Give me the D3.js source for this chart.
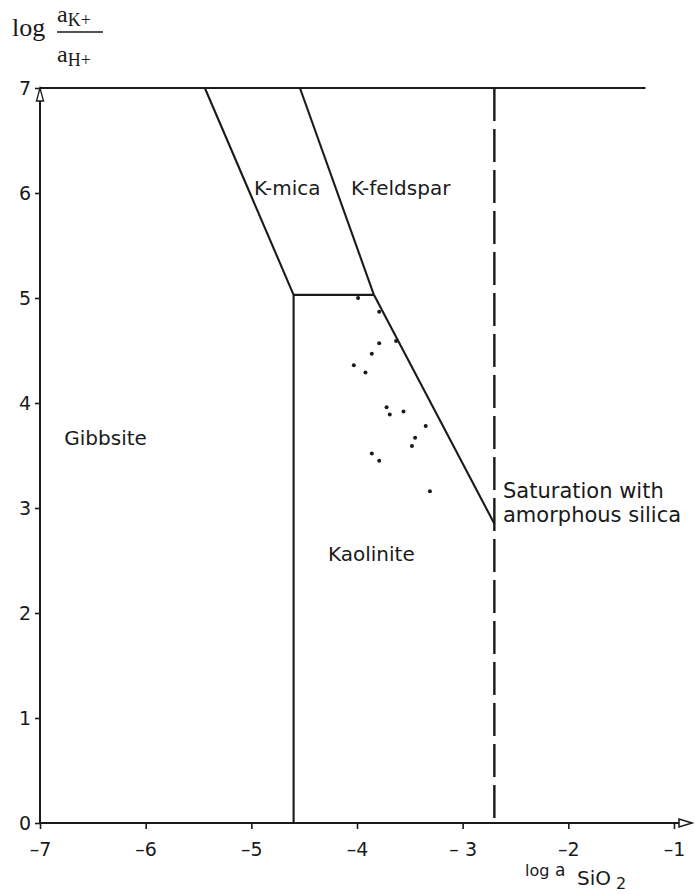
<!DOCTYPE html>
<html><head><meta charset="utf-8">
<script src="https://cdn.jsdelivr.net/npm/d3@7"></script>
<style>body{margin:0;background:#fff}</style>
</head><body>
<svg id="c" width="695" height="894"></svg>
<script>
// ---- data ----
const xTicks = [-7, -6, -5, -4, -3, -2, -1];
const xTickLabels = ["–7", "–6", "–5", "–4", "– 3", "–2", "–1"];
const yTicks = [0, 1, 2, 3, 4, 5, 6, 7];
const yTickLabels = ["0", "1", "2", "3", "4", "5", "6", "7"];

// measured water samples (log aSiO2, log aK+/aH+)
const sampleLogSiO2 = [-3.99, -3.79, -3.63, -3.79, -3.86, -4.03, -3.92, -3.72, -3.69, -3.56, -3.35, -3.45, -3.48, -3.86, -3.79, -3.31];
const sampleLogKH   = [5.00, 4.87, 4.59, 4.57, 4.47, 4.36, 4.29, 3.96, 3.89, 3.92, 3.78, 3.67, 3.59, 3.52, 3.45, 3.16];

// phase boundaries
const gibbsiteX = [-5.44, -4.6, -4.6];
const gibbsiteY = [7, 5.03, 0];
const micaKaoX = [-4.6, -3.84];
const micaKaoY = [5.03, 5.03];
const micaFspX = [-4.54, -3.84];
const micaFspY = [7, 5.03];
const fspKaoX = [-3.84, -2.7];
const fspKaoY = [5.03, 2.85];
const silicaX = [-2.7, -2.7];
const silicaY = [7, 0];
const topX = [-7, -1.27];
const topY = [7, 7];

const regionNames = ["K-mica", "K-feldspar", "Gibbsite", "Kaolinite"];
const regionX = [-4.975, -4.057, -6.77, -4.275];
const regionY = [5.98, 5.98, 3.6, 2.5];

// ---- drawing ----
const svg = d3.select("#c");
const x = d3.scaleLinear().domain([-7, -1]).range([40, 674]);
const y = d3.scaleLinear().domain([0, 7]).range([823, 88]);
const FONT = "'DejaVu Sans', sans-serif";
const ink = "#1a1a1a";

const line = d3.line().x(d => x(d[0])).y(d => y(d[1]));
const zip = (a, b) => a.map((v, i) => [v, b[i]]);

// x axis
const gx = svg.append("g").attr("transform", `translate(0,${y(0)})`)
  .call(d3.axisBottom(x).tickValues(xTicks).tickSize(6).tickSizeOuter(0)
    .tickFormat((d, i) => xTickLabels[i]));
gx.select(".domain").remove();
gx.selectAll(".tick line").attr("stroke", ink).attr("stroke-width", 1.6);
gx.selectAll(".tick text").attr("font-family", FONT).attr("font-size", 19)
  .attr("fill", ink).attr("y", 20).attr("dy", "0.71em");

// y axis
const gy = svg.append("g").attr("transform", `translate(${x(-7)},0)`)
  .call(d3.axisLeft(y).tickValues(yTicks).tickSize(5).tickSizeOuter(0)
    .tickFormat((d, i) => yTickLabels[i]));
gy.select(".domain").remove();
gy.selectAll(".tick line").attr("stroke", ink).attr("stroke-width", 1.6);
gy.selectAll(".tick text").attr("font-family", FONT).attr("font-size", 19)
  .attr("fill", ink).attr("x", -9);

// axis lines with arrows
svg.append("line").attr("x1", x(-7)).attr("x2", 692).attr("y1", y(0)).attr("y2", y(0))
  .attr("stroke", ink).attr("stroke-width", 2);
svg.append("path").attr("d", `M${692},${y(0)} L${679},${y(0)-4} L${679},${y(0)+4} Z`)
  .attr("fill", "#fff").attr("stroke", ink).attr("stroke-width", 1.5);
svg.append("line").attr("x1", x(-7)).attr("x2", x(-7)).attr("y1", y(0)).attr("y2", y(7))
  .attr("stroke", ink).attr("stroke-width", 2);
svg.append("path").attr("d", `M${x(-7)},${y(7)} L${x(-7)-3.5},${y(7)+13} L${x(-7)+3.5},${y(7)+13} Z`)
  .attr("fill", "#fff").attr("stroke", ink).attr("stroke-width", 1.3);

// boundaries
[[topX, topY], [gibbsiteX, gibbsiteY], [micaKaoX, micaKaoY], [micaFspX, micaFspY], [fspKaoX, fspKaoY]]
  .forEach(([a, b]) => {
    svg.append("path").attr("d", line(zip(a, b))).attr("fill", "none")
      .attr("stroke", ink).attr("stroke-width", 2.1).attr("stroke-linejoin", "miter");
  });
svg.append("path").attr("d", line(zip(silicaX, silicaY))).attr("fill", "none")
  .attr("stroke", ink).attr("stroke-width", 2.4).attr("stroke-dasharray", "33,8");

// samples
svg.selectAll("circle.s").data(zip(sampleLogSiO2, sampleLogKH)).enter().append("circle")
  .attr("class", "s").attr("cx", d => x(d[0])).attr("cy", d => y(d[1])).attr("r", 2).attr("fill", ink);

// region labels
svg.selectAll("text.r").data(regionNames).enter().append("text").attr("class", "r")
  .attr("x", (d, i) => x(regionX[i])).attr("y", (d, i) => y(regionY[i]))
  .attr("font-family", FONT).attr("font-size", 20).attr("fill", ink).text(d => d);

const sat = svg.append("text").attr("font-family", FONT).attr("font-size", 21).attr("fill", ink);
sat.append("tspan").attr("x", 503).attr("y", 498).text("Saturation with");
sat.append("tspan").attr("x", 503).attr("y", 522).text("amorphous silica");

// y axis title (serif)
const SERIF = "'Liberation Serif', 'DejaVu Serif', serif";
svg.append("text").attr("x", 12).attr("y", 36).attr("font-family", SERIF).attr("font-size", 26).attr("fill", ink).text("log");
svg.append("line").attr("x1", 57).attr("x2", 103).attr("y1", 32).attr("y2", 32).attr("stroke", ink).attr("stroke-width", 1.3);
const num = svg.append("text").attr("x", 57).attr("y", 22).attr("font-family", SERIF).attr("font-size", 24).attr("fill", ink);
num.append("tspan").text("a");
num.append("tspan").attr("dy", 4).attr("font-size", 18).text("K+");
const den = svg.append("text").attr("x", 57).attr("y", 62).attr("font-family", SERIF).attr("font-size", 24).attr("fill", ink);
den.append("tspan").text("a");
den.append("tspan").attr("dy", 4).attr("font-size", 18).text("H+");

// x axis title
const xt = svg.append("text").attr("font-family", FONT).attr("fill", ink);
xt.append("tspan").attr("x", 525).attr("y", 876).attr("font-size", 16).text("log");
xt.append("tspan").attr("x", 555).attr("y", 876).attr("font-size", 17).text("a");
xt.append("tspan").attr("x", 577).attr("y", 885).attr("font-size", 20).text("SiO");
xt.append("tspan").attr("x", 616).attr("y", 889).attr("font-size", 16).text("2");
</script>
</body></html>
